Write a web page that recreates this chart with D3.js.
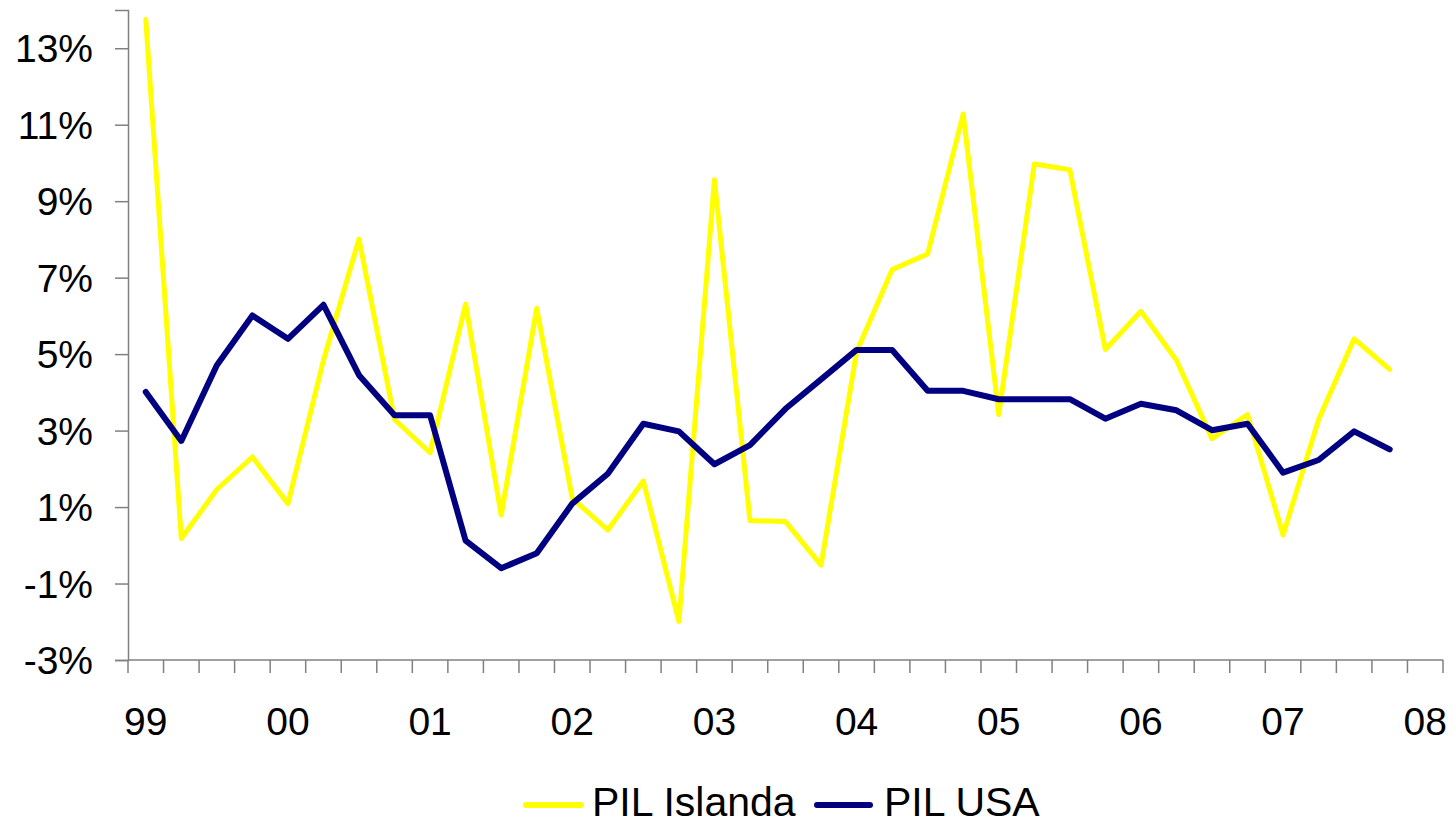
<!DOCTYPE html>
<html>
<head>
<meta charset="utf-8">
<script src="https://cdn.jsdelivr.net/npm/d3@7/dist/d3.min.js"></script>
<style>
  html, body { margin: 0; padding: 0; background: #fff; }
  svg { display: block; }
  text { font-family: "Liberation Sans", Arial, sans-serif; fill: #000; }
</style>
</head>
<body>
<svg id="chart" width="1455" height="826"></svg>
<script>
// Quarters 1999Q1 .. 2008Q1 (last category empty)
const categories = [
  "1999Q1","1999Q2","1999Q3","1999Q4",
  "2000Q1","2000Q2","2000Q3","2000Q4",
  "2001Q1","2001Q2","2001Q3","2001Q4",
  "2002Q1","2002Q2","2002Q3","2002Q4",
  "2003Q1","2003Q2","2003Q3","2003Q4",
  "2004Q1","2004Q2","2004Q3","2004Q4",
  "2005Q1","2005Q2","2005Q3","2005Q4",
  "2006Q1","2006Q2","2006Q3","2006Q4",
  "2007Q1","2007Q2","2007Q3","2007Q4",
  "2008Q1"
];
const yearLabels = ["99","00","01","02","03","04","05","06","07","08"];

const pilIslanda = [
  13.75, 0.18, 1.46, 2.31, 1.09, 4.84, 8.01, 3.29, 2.42, 6.31, 0.79, 6.2,
  1.23, 0.40, 1.68, -1.99, 9.56, 0.65, 0.62, -0.52, 5.06, 7.21, 7.62, 11.28,
  3.42, 9.97, 9.82, 5.12, 6.12, 4.84, 2.79, 3.42, 0.27, 3.29, 5.40, 4.60
];
const pilUSA = [
  4.01, 2.73, 4.71, 6.01, 5.40, 6.29, 4.45, 3.40, 3.40, 0.12, -0.60, -0.21,
  1.09, 1.87, 3.18, 2.98, 2.12, 2.62, 3.57, 4.34, 5.11, 5.11, 4.04, 4.04,
  3.82, 3.82, 3.82, 3.31, 3.70, 3.53, 3.01, 3.18, 1.90, 2.23, 2.98, 2.51
];
const yTicks = [-3, -1, 1, 3, 5, 7, 9, 11, 13];
const seriesNames = ["PIL Islanda", "PIL USA"];
const seriesColors = ["#FFFF00", "#000080"];

const svg = d3.select("#chart");
const plotLeft = 128, plotRight = 1443, plotTop = 10, plotBottom = 660;

const x = d3.scaleBand().domain(categories).range([plotLeft, plotRight]).padding(0);
const y = d3.scaleLinear().domain([-3, 14]).range([plotBottom, plotTop]);

const axisColor = "#808080";
const fontSize = 39;
const legendFont = 41;

// Y axis
const yAxis = d3.axisLeft(y).tickValues(yTicks).tickSize(13).tickPadding(0)
  .tickFormat(d => d + "%");
const gy = svg.append("g").attr("transform", `translate(${plotLeft},0)`).call(yAxis);
gy.select(".domain").attr("stroke", axisColor).attr("stroke-width", 1.5);
gy.selectAll(".tick line").attr("stroke", axisColor).attr("stroke-width", 1.5);
gy.selectAll(".tick text")
  .attr("x", -35)
  .attr("dy", "0.35em")
  .style("font-size", fontSize + "px")
  .style("font-family", '"Liberation Sans", Arial, sans-serif')
  .attr("fill", "#000");

// X axis: ticks at category boundaries
const boundaries = categories.map(c => x(c)).concat([plotRight]);
const gx = svg.append("g");
gx.append("line")
  .attr("x1", plotLeft).attr("x2", plotRight).attr("y1", plotBottom).attr("y2", plotBottom)
  .attr("stroke", axisColor).attr("stroke-width", 1.5);
gx.selectAll("line.tk").data(boundaries).join("line")
  .attr("class", "tk")
  .attr("x1", d => d).attr("x2", d => d)
  .attr("y1", plotBottom).attr("y2", plotBottom + 13)
  .attr("stroke", axisColor).attr("stroke-width", 1.5);
const labelCats = categories.filter((c, i) => i % 4 === 0);
gx.selectAll("text.xl").data(labelCats).join("text")
  .attr("class", "xl")
  .attr("x", d => x(d) + x.bandwidth() / 2)
  .attr("y", 735)
  .attr("text-anchor", "middle")
  .style("font-size", fontSize + "px")
  .text((d, i) => yearLabels[i]);

// Lines
const line = d3.line()
  .x((d, i) => x(categories[i]) + x.bandwidth() / 2)
  .y(d => y(d));

const seriesData = [pilIslanda, pilUSA];
const widths = [5, 6];
seriesData.forEach((s, k) => {
  svg.append("path")
    .datum(s)
    .attr("d", line)
    .attr("fill", "none")
    .attr("stroke", seriesColors[k])
    .attr("stroke-width", widths[k])
    .attr("stroke-linejoin", "round")
    .attr("stroke-linecap", "round");
});

// Legend
const legendItems = [
  { x1: 526, x2: 581, tx: 592 },
  { x1: 817, x2: 870, tx: 884 }
];
legendItems.forEach((it, k) => {
  svg.append("line")
    .attr("x1", it.x1).attr("x2", it.x2)
    .attr("y1", 805).attr("y2", 805)
    .attr("stroke", seriesColors[k])
    .attr("stroke-width", 6)
    .attr("stroke-linecap", "round");
  svg.append("text")
    .attr("x", it.tx).attr("y", 816)
    .style("font-size", legendFont + "px")
    .text(seriesNames[k]);
});
</script>
</body>
</html>
